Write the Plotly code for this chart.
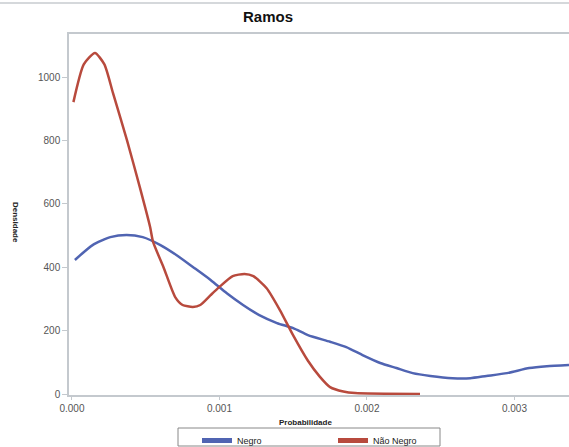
import plotly.graph_objects as go

# Data
negro_x = [0.00002, 0.00014, 0.00026, 0.00037, 0.00048, 0.00060, 0.00071, 0.00082, 0.00094,
           0.00105, 0.00116, 0.00127, 0.00139, 0.00150, 0.00160, 0.00175, 0.00186, 0.00197,
           0.00209, 0.00220, 0.00231, 0.00243, 0.00258, 0.00270, 0.00281, 0.00295, 0.00310,
           0.00322, 0.00337]
negro_y = [423, 470, 495, 502, 495, 470, 438, 401, 360,
           318, 281, 249, 224, 208, 186, 165, 148, 123,
           98, 82, 66, 57, 50, 50, 57, 66, 82,
           88, 92]

nao_x = [0.00001, 0.00008, 0.000156, 0.00022, 0.000278, 0.000373, 0.00046, 0.00053, 0.00055,
         0.00062, 0.00070, 0.00075, 0.00082, 0.00087, 0.00094, 0.00100, 0.00109, 0.00117,
         0.00123, 0.00132, 0.00141, 0.00150, 0.00160, 0.00168, 0.00175, 0.00184, 0.00192,
         0.00236]
nao_y = [921, 1040, 1076, 1040, 950, 801, 653, 527, 480,
         401, 306, 281, 275, 281, 312, 338, 372, 379,
         372, 334, 265, 185, 105, 55, 22, 8, 3,
         0]

series_names = ["Negro", "Não Negro"]
x_ticks = [0.000, 0.001, 0.002, 0.003]
y_ticks = [0, 200, 400, 600, 800, 1000]

blue = "#5064B2"
red = "#B84A3D"
axis_gray = "#C4C9CE"
tick_font = dict(family="Liberation Sans, Arial, sans-serif", size=10, color="#555555")


def py(px):
    return (395 - px) / 361


def px_x(px):
    return (px - 69) / 500


fig = go.Figure()
fig.add_trace(go.Scatter(x=negro_x, y=negro_y, mode="lines", name=series_names[0],
                         line=dict(color=blue, width=2.5, shape="spline", smoothing=0.6)))
fig.add_trace(go.Scatter(x=nao_x, y=nao_y, mode="lines", name=series_names[1],
                         line=dict(color=red, width=2.5, shape="spline", smoothing=0.6)))

fig.update_layout(
    width=569, height=447,
    margin=dict(l=69, r=0, t=34, b=52, autoexpand=False),
    paper_bgcolor="white", plot_bgcolor="white",
    showlegend=True,
    legend=dict(orientation="h", x=px_x(197), y=py(426),
                xanchor="left", yanchor="top",
                borderwidth=0, bgcolor="rgba(0,0,0,0)",
                entrywidth=91, entrywidthmode="pixels",
                font=dict(family="Liberation Sans, Arial, sans-serif", size=9, color="#222222"),
                tracegroupgap=0, itemsizing="constant"),
    xaxis=dict(range=[-0.00002, 0.00337], tickvals=x_ticks, tickformat=".3f",
               showgrid=False, zeroline=False, showline=True, linecolor=axis_gray, linewidth=1.5,
               mirror=True, ticks="outside", ticklen=3, tickcolor=axis_gray,
               tickfont=tick_font),
    yaxis=dict(range=[-3, 1136], tickvals=y_ticks,
               showgrid=False, zeroline=False, showline=True, linecolor=axis_gray, linewidth=1.5,
               ticks="outside", ticklen=5, tickcolor=axis_gray,
               tickfont=tick_font),
)

fig.add_annotation(text="<b>Ramos</b>", xref="paper", yref="paper", x=px_x(268),
                   y=py(16), showarrow=False, xanchor="center", yanchor="middle",
                   font=dict(family="Liberation Sans, Arial, sans-serif", size=15, color="#111111"))
fig.add_annotation(text="<b>Probabilidade</b>", xref="paper", yref="paper", x=px_x(305),
                   y=py(422), showarrow=False, xanchor="center", yanchor="middle",
                   font=dict(family="Liberation Sans, Arial, sans-serif", size=8, color="#222222"))
fig.add_annotation(text="<b>Densidade</b>", xref="paper", yref="paper", x=px_x(16),
                   y=py(222), showarrow=False, xanchor="center", yanchor="middle",
                   textangle=90,
                   font=dict(family="Liberation Sans, Arial, sans-serif", size=8, color="#222222"))
# top page rule
fig.add_shape(type="line", xref="paper", yref="paper", x0=px_x(0), x1=1,
              y0=py(3), y1=py(3), line=dict(color="#D5D8DB", width=2))
# legend frame
fig.add_shape(type="rect", xref="paper", yref="paper", x0=px_x(178), x1=px_x(440),
              y0=py(446), y1=py(428), line=dict(color="#888888", width=1), layer="below")

fig.write_html("out.html")
